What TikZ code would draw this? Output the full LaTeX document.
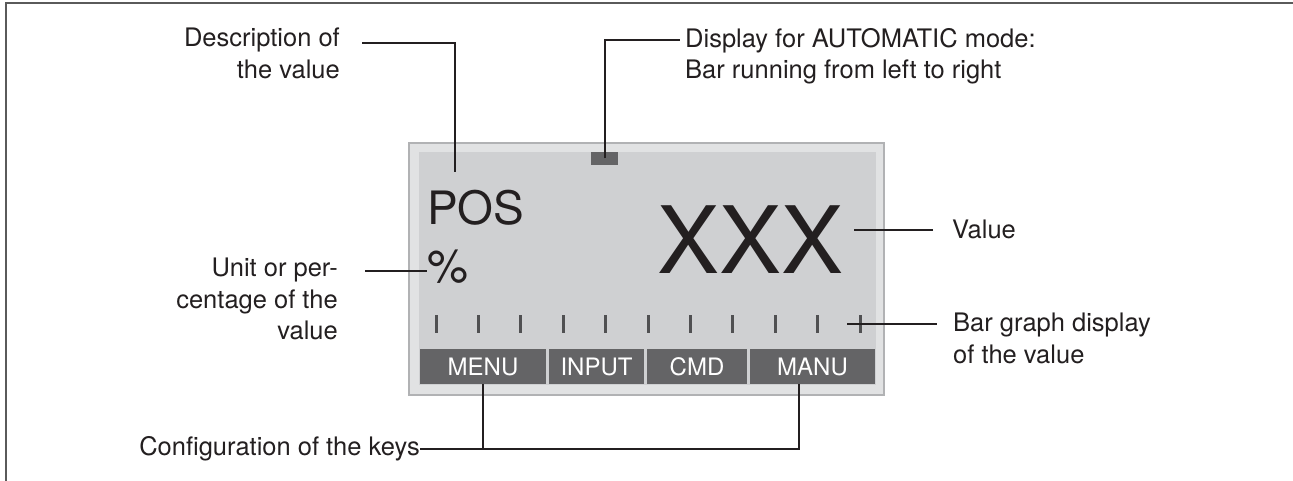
\documentclass[tikz,border=0pt]{standalone}
\usepackage{fontspec}
\setmainfont{TeX Gyre Heros}
\usetikzlibrary{calc}
\definecolor{dspFrame}{HTML}{B1B2B4}
\definecolor{dspOuter}{HTML}{E1E2E3}
\definecolor{dspInner}{HTML}{CFD0D2}
\definecolor{dspKey}{HTML}{646466}
\definecolor{dspInk}{HTML}{231F20}
\definecolor{pgFrame}{HTML}{5A5A5A}

\begin{document}
\begin{tikzpicture}[x=1pt,y=-1pt,
      every node/.style={inner sep=0},
      lbl/.style={text=dspInk, font=\fontsize{25.5}{31.5}\selectfont},
      lead/.style={draw=dspInk, line width=2pt},
      key/.style={fill=dspKey, text=white, minimum height=35,
                  font=\fontsize{24}{24}\selectfont},
      tick/.style={fill=dspKey!80!black, minimum width=3, minimum height=18}]
    \useasboundingbox (0,0) rectangle (1293,481);
    \draw[pgFrame, line width=2pt] (5.7,481) -- (5.7,3) -- (1293,3);

    \node[draw=dspFrame, line width=2.5pt, fill=dspOuter,
          minimum width=475, minimum height=251.5] (disp) at (646.5,269) {};
    \node[fill=dspInner, minimum width=457, minimum height=232] (scr) at (647.5,268.5) {};
    \node[fill=dspKey, minimum width=27, minimum height=13] (auto) at (604.5,158.5) {};

    \node[anchor=base west, text=dspInk, font=\fontsize{46}{46}\selectfont] (pos) at (427,225) {POS};
    \node[anchor=base west, text=dspInk, font=\fontsize{46}{46}\selectfont] (pct) at (427,282) {\%};
    \node[anchor=base east, text=dspInk, font=\fontsize{93}{93}\selectfont] (xxx) at (844,273) {XXX};

    \foreach \i in {0,...,10}
      {\node[tick] (t\i) at ({436+42.4*\i},324) {};}

    \node[key, minimum width=126] (menu)  at (483,366.5)   {MENU};
    \node[key, minimum width=95]  (input) at (596.5,366.5) {INPUT};
    \node[key, minimum width=100] (cmd)   at (697,366.5)   {CMD};
    \node[key, minimum width=125] (manu)  at (812.5,366.5) {MANU};

    \node[lbl, align=right, anchor=north east] (desc) at (340,28) {Description of\\the value};
    \node[lbl, align=left, anchor=north west] (autol) at (685,28)
      {Display for AUTOMATIC mode:\\Bar running from left to right};
    \node[lbl, anchor=base west] (val) at (952,239) {Value};
    \node[lbl, align=left, anchor=north west] (bar) at (953,313) {Bar graph display\\of the value};
    \node[lbl, align=right, anchor=north east] (unit) at (338,258) {Unit or per-\\centage of the\\value};
    \node[lbl, anchor=east] (conf) at (420,449) {Configuration of the keys};

    \coordinate (uA) at ([shift={(27,13)}]unit.north east);
    \coordinate (vA) at ([xshift=-19]val.west);
    \draw[lead] ([shift={(22,15)}]desc.north east) -| ([shift={(-21,-18)}]pos.north);
    \draw[lead] (auto.center) |- ([shift={(-5,12)}]autol.north west);
    \draw[lead] (uA) -- (uA -| pct.west);
    \draw[lead, shorten >=10pt] (vA) -- (vA -| xxx.east);
    \draw[lead, shorten <=-13pt, shorten >=16pt] (t10.center) -- (t10.center -| bar.west);
    \draw[lead] (menu.south) -- (menu.south |- conf.east);
    \draw[lead] (conf.east) -| ([xshift=-14]manu.south);
  \end{tikzpicture}
\end{document}
